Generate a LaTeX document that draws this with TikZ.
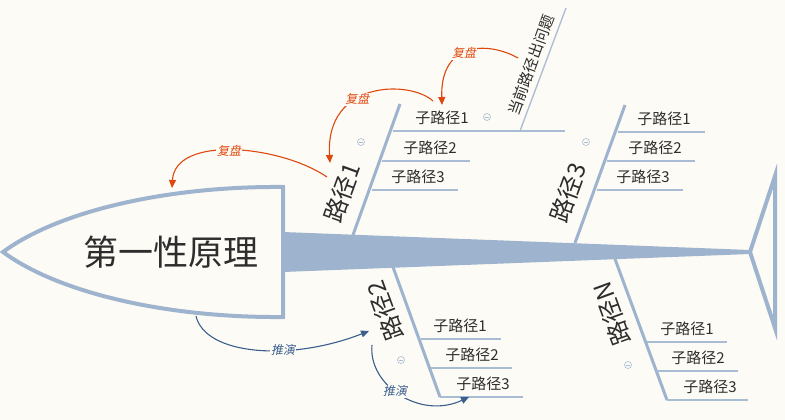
\documentclass[tikz,border=0pt]{standalone}
\usepackage{fontspec}
\setmainfont{Noto Sans CJK SC}
\newfontfamily\slantcjk[FakeSlant=0.2]{Noto Sans CJK SC}
\definecolor{bonecol}{RGB}{158,180,206}
\definecolor{twigcol}{RGB}{168,188,212}
\definecolor{inkcol}{RGB}{45,45,45}
\definecolor{reviewred}{RGB}{222,72,14}
\definecolor{deduceblue}{RGB}{58,94,142}
\definecolor{papercol}{RGB}{253,251,245}
\usetikzlibrary{arrows.meta}

\begin{document}
\begin{tikzpicture}[x=1pt,y=-1pt,
    bone/.style={draw=bonecol,line width=3pt},
    twig/.style={draw=twigcol,line width=1.3pt},
    headlabel/.style={font=\fontsize{35}{35}\selectfont,text=inkcol,inner sep=0pt},
    branchlabel/.style={font=\fontsize{24}{24}\selectfont,text=inkcol,inner sep=0pt},
    sublabel/.style={font=\fontsize{15}{15}\selectfont,text=inkcol,inner sep=1pt},
    fold/.style={circle,draw=twigcol,line width=0.6pt,minimum size=7pt,inner sep=0pt,
      path picture={\draw[twigcol,line width=0.6pt]
        ([xshift=-2pt]path picture bounding box.center) --
        ([xshift=2pt]path picture bounding box.center);}},
    review/.style={draw=reviewred,line width=1.1pt,-{Triangle[length=8pt,width=7pt]}},
    deduce/.style={draw=deduceblue,line width=1.1pt,-{Triangle[length=8pt,width=7pt]}},
    tag/.style={font=\slantcjk\fontsize{12}{12}\selectfont,fill=papercol,inner sep=1pt}]
  \fill[papercol] (0,0) rectangle (785,420);
  \useasboundingbox (0,0) rectangle (785,420);

  % spine and tail
  \fill[bonecol] (283,232) -- (750,250) -- (750,254) -- (283,272) -- cycle;
  \draw[bonecol,line width=4pt,line join=miter] (750,252) -- (775,176) -- (775,328) -- cycle;

  % head
  \draw[bonecol,line width=4pt,fill=papercol]
    (283,187) .. controls (170,186) and (60,210) .. (3,252)
    .. controls (60,294) and (170,318) .. (283,317) -- cycle;
  \node[headlabel] (head) at (171,252) {第一性原理};
  \coordinate (headtop) at (172,188);
  \coordinate (headbot) at (196,316);

  % branch 1
  \coordinate (b1a) at (353,235);
  \coordinate (b1b) at (400,104);
  \draw[bone] (b1a) -- (b1b);
  \node[branchlabel,rotate=70] (b1) at (342,193) {路径1};
  \draw[twig] (393,131) -- (565,131);
  \draw[twig] (382,161) -- (470,161);
  \draw[twig] (372,190) -- (458,190);
  \node[sublabel] (b1s1) at (442,118) {子路径1};
  \node[sublabel] (b1s2) at (430,148) {子路径2};
  \node[sublabel] (b1s3) at (418,177) {子路径3};
  \node[fold] (b1f) at (361,142) {};
  \node[fold] (b1s1f) at (487,117) {};
  % problem twig
  \coordinate (pa) at (520,131);
  \coordinate (pb) at (566,8);
  \draw[twig] (pa) -- (pb);
  \node[sublabel,rotate=70] (prob) at (531,65) {当前路径出问题};

  % branch 3
  \coordinate (b3a) at (575,243);
  \coordinate (b3b) at (625,105);
  \draw[bone] (b3a) -- (b3b);
  \node[branchlabel,rotate=70] (b3) at (568,193) {路径3};
  \draw[twig] (618,132) -- (705,132);
  \draw[twig] (607,161) -- (695,161);
  \draw[twig] (597,190) -- (683,190);
  \node[sublabel] (b3s1) at (664,119) {子路径1};
  \node[sublabel] (b3s2) at (655,148) {子路径2};
  \node[sublabel] (b3s3) at (643,177) {子路径3};
  \node[fold] (b3f) at (586,142) {};

  % branch 2
  \coordinate (b2a) at (393,267);
  \coordinate (b2b) at (440,397);
  \draw[bone] (b2a) -- (b2b);
  \node[branchlabel,rotate=110] (b2) at (385,311) {路径2};
  \draw[twig] (421,339) -- (501,339);
  \draw[twig] (431,368) -- (512,368);
  \draw[twig] (440,397) -- (523,397);
  \node[sublabel] (b2s1) at (460,326) {子路径1};
  \node[sublabel] (b2s2) at (472,355) {子路径2};
  \node[sublabel] (b2s3) at (483,384) {子路径3};
  \node[fold] (b2f) at (401,360) {};

  % branch N
  \coordinate (bna) at (615,259);
  \coordinate (bnb) at (667,400);
  \draw[bone] (bna) -- (bnb);
  \node[branchlabel,rotate=110] (bn) at (612,314) {路径N};
  \draw[twig] (647,342) -- (727,342);
  \draw[twig] (657,371) -- (738,371);
  \draw[twig] (667,400) -- (748,400);
  \node[sublabel] (bns1) at (687,329) {子路径1};
  \node[sublabel] (bns2) at (698,358) {子路径2};
  \node[sublabel] (bns3) at (710,387) {子路径3};
  \node[fold] (bnf) at (628,365) {};

  % review arrows
  \coordinate (r1s) at (327,177);
  \coordinate (r2s) at (433,101);
  \coordinate (r2e) at (330,163);
  \coordinate (r3s) at (518,58);
  \coordinate (r3e) at (442,105);
  \draw[review] (r1s) .. controls (280,145) and (175,135) .. (headtop)
    node[tag,text=reviewred,pos=.52] {复盘};
  \draw[review] (r2s) .. controls (410,80) and (325,80) .. (r2e)
    node[tag,text=reviewred,pos=.6] {复盘};
  \draw[review] (r3s) .. controls (490,42) and (440,40) .. (r3e)
    node[tag,text=reviewred,pos=.55] {复盘};

  % deduce arrows
  \coordinate (d1e) at (369,331);
  \coordinate (d2s) at (372,345);
  \coordinate (d2e) at (469,397);
  \draw[deduce] (headbot) .. controls (205,355) and (290,362) .. (d1e)
    node[tag,text=deduceblue,pos=.63] {推演};
  \draw[deduce] (d2s) .. controls (368,385) and (420,420) .. (d2e)
    node[tag,text=deduceblue,pos=.45] {推演};
\end{tikzpicture}
\end{document}
